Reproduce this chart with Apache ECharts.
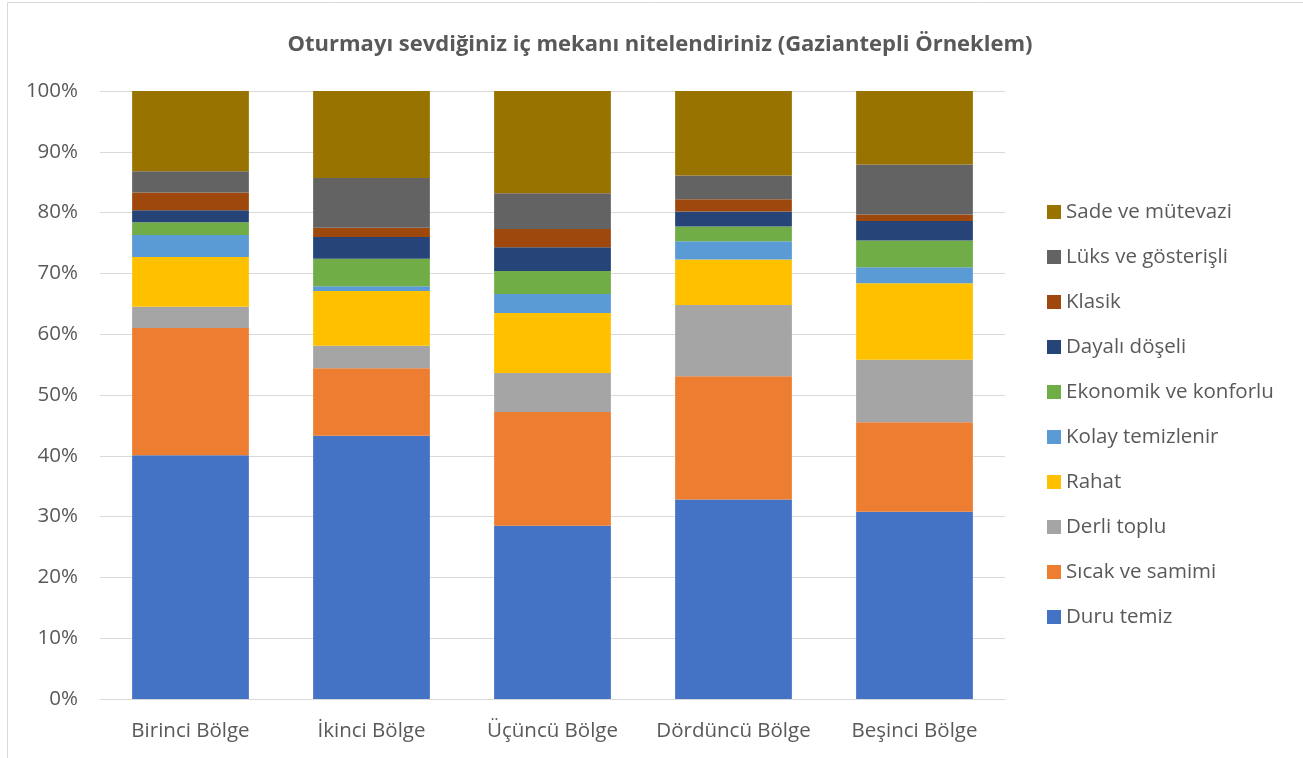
<!DOCTYPE html>
<html>
<head>
<meta charset="utf-8">
<script src="https://cdn.jsdelivr.net/npm/echarts@6/dist/echarts.min.js"></script>
<style>
html, body { margin: 0; padding: 0; background: #fff; }
#chart { width: 1303px; height: 758px; }
</style>
</head>
<body>
<div id="chart"></div>
<script>
var regions = ["Birinci Bölge", "İkinci Bölge", "Üçüncü Bölge", "Dördüncü Bölge", "Beşinci Bölge"];

// percentages per region
var duruTemiz      = [40.1, 43.3, 28.5, 32.8, 30.8];
var sicakSamimi    = [20.9, 11.1, 18.7, 20.3, 14.7];
var derliToplu     = [3.5, 3.7, 6.4, 11.7, 10.3];
var rahat          = [8.2, 9.0, 9.9, 7.5, 12.6];
var kolayTemiz     = [3.6, 0.8, 3.1, 3.0, 2.6];
var ekonomik       = [2.1, 4.5, 3.8, 2.4, 4.4];
var dayaliDoseli   = [2.0, 3.6, 3.9, 2.5, 3.2];
var klasik         = [2.9, 1.5, 3.0, 2.0, 1.1];
var luks           = [3.5, 8.2, 5.9, 3.9, 8.2];
var sade           = [13.2, 14.3, 16.8, 13.9, 12.1];

var seriesNames = ["Duru temiz", "Sıcak ve samimi", "Derli toplu", "Rahat", "Kolay temizlenir",
    "Ekonomik ve konforlu", "Dayalı döşeli", "Klasik", "Lüks ve gösterişli", "Sade ve mütevazi"];
var seriesData = [duruTemiz, sicakSamimi, derliToplu, rahat, kolayTemiz,
    ekonomik, dayaliDoseli, klasik, luks, sade];
var colors = ["#4472C4", "#ED7D31", "#A5A5A5", "#FFC000", "#5B9BD5",
    "#70AD47", "#264478", "#9E480E", "#636363", "#997300"];

var font = "'Open Sans', 'Noto Sans', sans-serif";

var series = [];
for (var i = 0; i < seriesNames.length; i++) {
    series.push({
        name: seriesNames[i],
        type: 'bar',
        stack: 'total',
        barCategoryGap: '35.5%',
        data: seriesData[i],
        itemStyle: { color: colors[i] }
    });
}

var chart = echarts.init(document.getElementById('chart'));
chart.setOption({
    animation: false,
    color: colors,
    title: {
        text: 'Oturmayı sevdiğiniz iç mekanı nitelendiriniz (Gaziantepli Örneklem)',
        left: 655,
        textAlign: 'center',
        top: 29,
        textStyle: { fontFamily: font, fontSize: 22, fontWeight: 'bold', color: '#595959' }
    },
    grid: { left: 100, right: 298, top: 91, bottom: 59 },
    legend: {
        orient: 'vertical',
        left: 1042,
        top: 195,
        itemWidth: 14,
        itemHeight: 14,
        itemGap: 21,
        icon: 'rect',
        data: seriesNames.slice().reverse(),
        textStyle: { fontFamily: font, fontSize: 20.5, color: '#595959', lineHeight: 24 }
    },
    xAxis: {
        type: 'category',
        data: regions,
        axisLine: { lineStyle: { color: '#D9D9D9' } },
        axisTick: { show: false },
        axisLabel: { fontFamily: font, fontSize: 20.5, color: '#595959', margin: 22, interval: 0 }
    },
    yAxis: {
        type: 'value',
        min: 0,
        max: 100,
        interval: 10,
        axisLine: { show: false },
        axisTick: { show: false },
        splitLine: { lineStyle: { color: '#D9D9D9' } },
        axisLabel: { fontFamily: font, fontSize: 20.5, color: '#595959', formatter: '{value}%', margin: 22 }
    },
    graphic: [{
        type: 'rect',
        shape: { x: 7.5, y: 2.5, width: 1300, height: 760 },
        style: { fill: 'none', stroke: '#D9D9D9', lineWidth: 1 },
        silent: true
    }],
    series: series
});
</script>
</body>
</html>
